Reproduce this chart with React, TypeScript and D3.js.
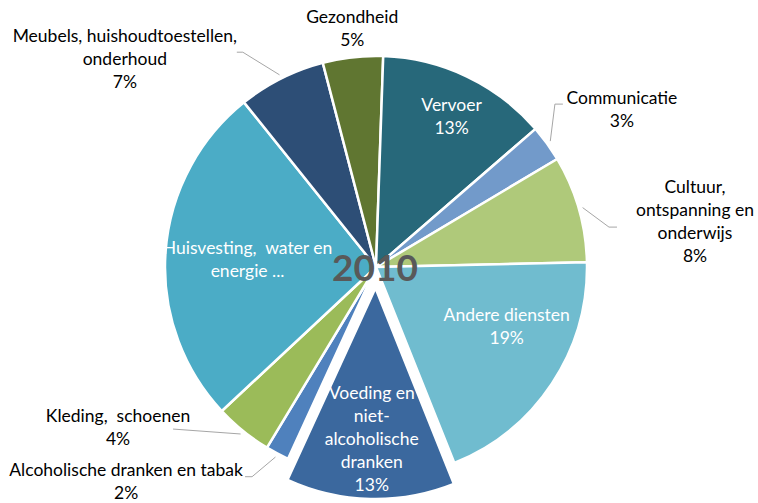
import * as d3 from 'd3'

// household spending shares 2010, clockwise starting at the exploded slice
const categories = [
    'Voeding en niet-alcoholische dranken',
    'Alcoholische dranken en tabak',
    'Kleding, schoenen',
    'Huisvesting, water en energie',
    'Meubels, huishoudtoestellen, onderhoud',
    'Gezondheid',
    'Vervoer',
    'Communicatie',
    'Cultuur, ontspanning en onderwijs',
    'Andere diensten'
]
const shares = [12.9, 1.8, 4.4, 26.2, 6.7, 4.6, 13.1, 2.8, 8.2, 19.3]
const labelLines = [
    ['Voeding en', 'niet-', 'alcoholische', 'dranken'],
    ['Alcoholische dranken en tabak'],
    ['Kleding,  schoenen'],
    ['Huisvesting,  water en', 'energie ...'],
    ['Meubels, huishoudtoestellen,', 'onderhoud'],
    ['Gezondheid'],
    ['Vervoer'],
    ['Communicatie'],
    ['Cultuur,', 'ontspanning en', 'onderwijs'],
    ['Andere diensten']
]
const showPercent = [true, true, true, false, true, true, true, true, true, true]
const colors = ['#3b689e', '#4f81bd', '#9bbb59', '#4bacc6', '#2d4e76', '#607631', '#27687a', '#729aca', '#afc97a', '#70bccf']
const title = '2010'

// layout
const width = 758
const height = 503
const cx = 376
const cy = 267
const radius = 211
const explode = [21, 0, 0, 0, 0, 0, 0, 0, 0, 0]
const firstSliceAngle = 158.2
const lineHeight = 23

// label placement: distance as share of radius, angle in degrees (null = slice middle)
const labelPlace: { d: number; a: number | null; inside: boolean }[] = [
    { d: 0.715, a: null, inside: true },
    { d: 1.56, a: 229.4, inside: false },
    { d: 1.44, a: 238.1, inside: false },
    { d: 0.61, a: 273.5, inside: true },
    { d: 1.545, a: 309.6, inside: false },
    { d: 1.135, a: 354.3, inside: false },
    { d: 0.8, a: 26.6, inside: true },
    { d: 1.385, a: 57.3, inside: false },
    { d: 1.527, a: 81.9, inside: false },
    { d: 0.68, a: 114.4, inside: true }
]
// leader lines: start relative to label centre, plus horizontal stub
const leaders: ({ ox: number; oy: number; ext: number } | null)[] = [
    null,
    { ox: 119, oy: -4.5, ext: 7 },
    { ox: 55, oy: 1.5, ext: 0 },
    null,
    { ox: 112, oy: -7, ext: 6 },
    null,
    null,
    { ox: -59, oy: -5, ext: -8 },
    { ox: -78, oy: 5.5, ext: -8 },
    null
]

const rad = (deg: number) => (deg * Math.PI) / 180
const polar = (angle: number, r: number): [number, number] => [Math.sin(angle) * r, -Math.cos(angle) * r]

export default function App() {
    const pie = d3.pie<number>()
        .sort(null)
        .value(d => d)
        .startAngle(rad(firstSliceAngle))
        .endAngle(rad(firstSliceAngle) + Math.PI * 2)
    const arcs = pie(shares)

    const arc = d3.arc<d3.PieArcDatum<number>>()
        .innerRadius(0)
        .outerRadius(radius)

    const line = d3.line()

    return (
        <svg width={width} height={height} style={{ position: 'absolute', left: 0, top: 0 }}
            fontFamily="Lato, 'Open Sans', sans-serif">
            <rect width={width} height={height} fill="#ffffff" />
            <g transform={`translate(${cx},${cy})`}>
                {arcs.map((a, i) => {
                    const mid = (a.startAngle + a.endAngle) / 2
                    const [ex, ey] = polar(mid, explode[i])
                    return (
                        <path key={categories[i]} d={arc(a) ?? ''} transform={`translate(${ex},${ey})`}
                            fill={colors[i]} stroke="#ffffff" strokeWidth={2.5} strokeLinejoin="round" />
                    )
                })}

                {arcs.map((a, i) => {
                    const ld = leaders[i]
                    if (!ld) return null
                    const p = labelPlace[i]
                    const mid = (a.startAngle + a.endAngle) / 2
                    const [lx, ly] = polar(p.a === null ? mid : rad(p.a), p.d * radius)
                    const rim = polar(mid, radius + 4)
                    const s: [number, number] = [lx + ld.ox, ly + ld.oy]
                    const pts: [number, number][] = ld.ext ? [s, [s[0] + ld.ext, s[1]], rim] : [s, rim]
                    return <path key={'l' + i} d={line(pts) ?? ''} fill="none" stroke="#a6a6a6" strokeWidth={1} />
                })}

                {arcs.map((a, i) => {
                    const p = labelPlace[i]
                    const mid = (a.startAngle + a.endAngle) / 2
                    const [ex, ey] = polar(mid, explode[i])
                    const [lx, ly] = polar(p.a === null ? mid : rad(p.a), p.d * radius)
                    const lines = showPercent[i] ? [...labelLines[i], `${Math.round(shares[i])}%`] : labelLines[i]
                    const y0 = ly + ey - ((lines.length - 1) * lineHeight) / 2 + 6
                    return (
                        <text key={'t' + i} textAnchor="middle" fontSize={17.5}
                            fill={p.inside ? '#ffffff' : '#000000'} style={{ whiteSpace: 'pre' }}>
                            {lines.map((t, j) => (
                                <tspan key={j} x={lx + ex} y={y0 + j * lineHeight}>{t}</tspan>
                            ))}
                        </text>
                    )
                })}

                <text x={-1} y={14} textAnchor="middle" fontSize={37} fontWeight="bold" fill="#595959">
                    {title}
                </text>
            </g>
        </svg>
    )
}
